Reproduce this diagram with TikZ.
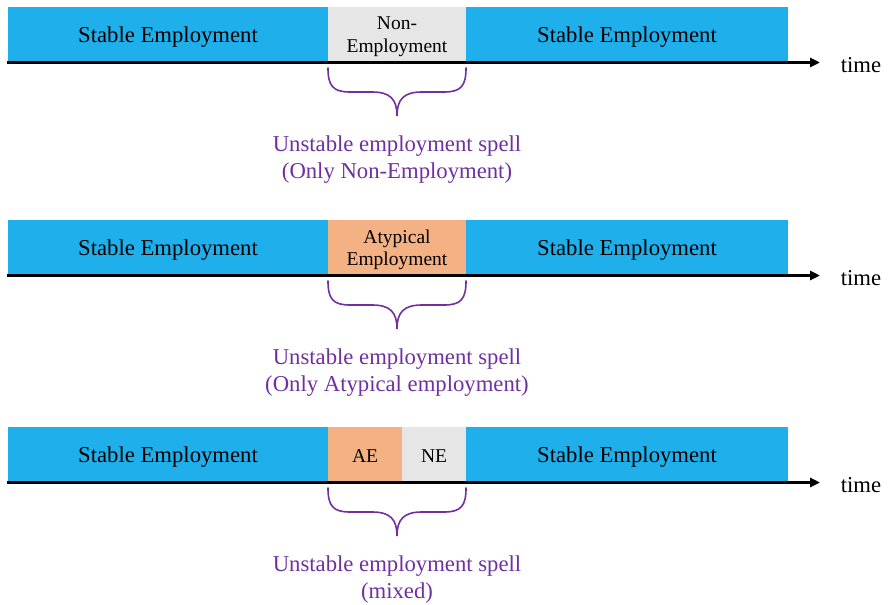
\documentclass[tikz,border=0pt]{standalone}
\usepackage{fontspec}
\setmainfont{Liberation Serif}
\usetikzlibrary{arrows.meta}
\definecolor{stableblue}{HTML}{1FAFEA}
\definecolor{negray}{HTML}{E7E6E6}
\definecolor{aeorange}{HTML}{F4B183}
\definecolor{spellpurple}{HTML}{7030A0}
\tikzset{
  seg/.style={draw=none, inner sep=0pt, outer sep=0pt, anchor=north west, minimum height=54pt},
  bigtxt/.style={font=\fontsize{22.7}{26}\selectfont, inner sep=0pt, anchor=base},
  smalltxt/.style={font=\fontsize{19.5}{22}\selectfont, inner sep=0pt, anchor=base},
  purpletxt/.style={font=\fontsize{22.7}{26}\selectfont, inner sep=0pt, anchor=base, text=spellpurple},
  timeline/.style={line width=3pt, -{Triangle[length=10pt,width=9pt]}},
  bracestyle/.style={draw=spellpurple, line width=1.6pt, line cap=round}
}
\begin{document}
\begin{tikzpicture}[x=1pt,y=-1pt]
\useasboundingbox[fill=white] (0,0) rectangle (892,605);
% ---------- Row 1 ----------
\begin{scope}[yshift=0pt]
\node[seg, fill=stableblue, minimum width=320pt] (s1a) at (8,7) {};
\node[seg, fill=negray, minimum width=138pt] (n1) at (328,7) {};
\node[seg, fill=stableblue, minimum width=322pt] (s1b) at (466,7) {};
\node[bigtxt] (t1a) at (168,42) {Stable Employment};
\node[bigtxt] (t1b) at (627,42) {Stable Employment};
\node[smalltxt] (t1n1) at (397,30) {Non-};
\node[smalltxt] (t1n2) at (397,52) {Employment};
\coordinate (a1s) at (7,62.5);
\coordinate (a1e) at (820,62.5);
\draw[timeline] (a1s) -- (a1e);
\node[bigtxt] (time1) at (861,72) {time};
\coordinate (b1l) at (328,68);
\coordinate (b1r) at (466,68);
\coordinate (b1t) at (397,116);
\draw[bracestyle] (b1l) .. controls (328,86) and (333,92) .. (350,92) -- (372,92)
  .. controls (390,92) and (397,99) .. (b1t)
  .. controls (397,99) and (404,92) .. (422,92) -- (444,92)
  .. controls (461,92) and (466,86) .. (b1r);
\node[purpletxt] (p1a) at (397,151.5) {Unstable employment spell};
\node[purpletxt] (p1b) at (397,178.5) {(Only Non-Employment)};
\end{scope}
% ---------- Row 2 ----------
\begin{scope}[yshift=-213pt]
\node[seg, fill=stableblue, minimum width=320pt] (s2a) at (8,7) {};
\node[seg, fill=aeorange, minimum width=138pt] (a2) at (328,7) {};
\node[seg, fill=stableblue, minimum width=322pt] (s2b) at (466,7) {};
\node[bigtxt] (t2a) at (168,42) {Stable Employment};
\node[bigtxt] (t2b) at (627,42) {Stable Employment};
\node[smalltxt] (t2n1) at (397,30) {Atypical};
\node[smalltxt] (t2n2) at (397,52) {Employment};
\coordinate (a2s) at (7,62.5);
\coordinate (a2e) at (820,62.5);
\draw[timeline] (a2s) -- (a2e);
\node[bigtxt] (time2) at (861,72) {time};
\coordinate (b2l) at (328,68);
\coordinate (b2r) at (466,68);
\coordinate (b2t) at (397,116);
\draw[bracestyle] (b2l) .. controls (328,86) and (333,92) .. (350,92) -- (372,92)
  .. controls (390,92) and (397,99) .. (b2t)
  .. controls (397,99) and (404,92) .. (422,92) -- (444,92)
  .. controls (461,92) and (466,86) .. (b2r);
\node[purpletxt] (p2a) at (397,151) {Unstable employment spell};
\node[purpletxt] (p2b) at (397,178) {(Only Atypical employment)};
\end{scope}
% ---------- Row 3 ----------
\begin{scope}[yshift=-420pt]
\node[seg, fill=stableblue, minimum width=320pt] (s3a) at (8,7) {};
\node[seg, fill=aeorange, minimum width=74pt] (a3) at (328,7) {};
\node[seg, fill=negray, minimum width=64pt] (n3) at (402,7) {};
\node[seg, fill=stableblue, minimum width=322pt] (s3b) at (466,7) {};
\node[bigtxt] (t3a) at (168,42) {Stable Employment};
\node[bigtxt] (t3b) at (627,42) {Stable Employment};
\node[smalltxt] (t3ae) at (365,42) {AE};
\node[smalltxt] (t3ne) at (434,42) {NE};
\coordinate (a3s) at (7,62.5);
\coordinate (a3e) at (820,62.5);
\draw[timeline] (a3s) -- (a3e);
\node[bigtxt] (time3) at (861,72) {time};
\coordinate (b3l) at (328,68);
\coordinate (b3r) at (466,68);
\coordinate (b3t) at (397,116);
\draw[bracestyle] (b3l) .. controls (328,86) and (333,92) .. (350,92) -- (372,92)
  .. controls (390,92) and (397,99) .. (b3t)
  .. controls (397,99) and (404,92) .. (422,92) -- (444,92)
  .. controls (461,92) and (466,86) .. (b3r);
\node[purpletxt] (p3a) at (397,151) {Unstable employment spell};
\node[purpletxt] (p3b) at (397,178) {(mixed)};
\end{scope}
\end{tikzpicture}
\end{document}
